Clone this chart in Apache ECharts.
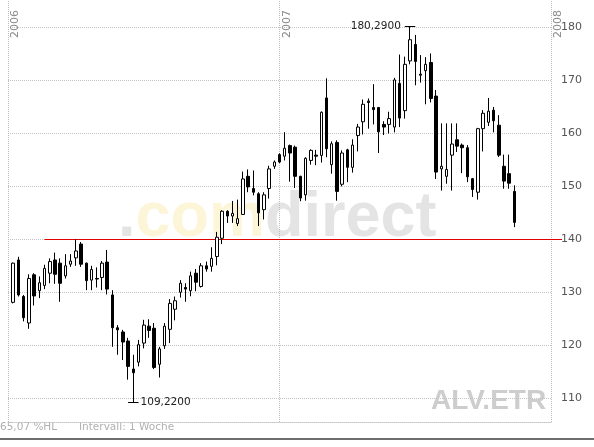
<!DOCTYPE html>
<html><head><meta charset="utf-8">
<script src="https://cdn.jsdelivr.net/npm/echarts@6/dist/echarts.min.js"></script>
<style>html,body{margin:0;padding:0;background:#fff}#c{width:594px;height:447px}</style>
</head><body><div id="c"></div>
<script>
// Weekly candles ALV.ETR, first candle in week index 1 (index 0 = first week of 2006)
const opens  = [128.1,136.1,129.2,124.2,133.3,130.3,131.3,133.6,136.1,135.5,133.1,135.3,136.5,139.1,135.5,132.3,132.6,132.8,135.7,129.5,
                123.3,122.5,120.8,115.5,116.8,120.4,123.6,123.2,116.4,119.9,123.0,126.8,130.0,130.9,130.3,133.6,131.1,135.0,134.9,136.75,
                140.2,145.3,144.4,143.0,144.7,151.9,149.6,148.6,145.6,149.6,153.8,156.0,155.7,157.7,157.4,151.9,148.4,154.9,155.9,155.85,
                166.7,154.1,158.3,150.4,156.9,153.6,159.6,162.2,166.1,164.9,164.9,161.7,161.7,161.2,169.45,164.3,173.7,176.8,171.2,171.85,
                173.4,167.05,153.3,151.9,155.9,158.8,157.8,157.3,151.45,148.9,160.9,162.1,164.4,161.55,153.8,152.4,149.05];
const closes = [135.5,129.5,125.2,132.6,129.3,131.8,134.5,135.8,133.4,131.7,135.0,135.9,137.8,135.3,132.2,134.3,132.5,135.5,130.6,123.3,
                122.9,120.6,116.0,114.8,120.1,123.8,122.8,115.8,119.3,123.6,127.9,128.4,131.7,130.6,133.1,131.9,135.0,134.4,136.4,140.4,
                145.3,144.4,144.9,143.9,151.4,149.9,148.9,145.0,148.4,153.3,154.6,154.6,157.2,156.3,151.9,147.8,155.3,156.8,155.7,164.0,
                157.1,158.05,149.05,156.3,153.6,157.8,161.2,165.5,165.85,164.5,160.3,161.2,162.8,170.1,162.9,173.05,177.7,173.6,171.0,173.05,
                166.6,152.7,153.8,153.2,158.0,157.6,157.3,151.8,149.4,160.9,163.8,164.2,162.4,155.9,151.0,150.6,143.2];
const lows   = [127.9,129.2,124.5,123.1,127.5,128.9,130.6,131.7,131.6,128.2,132.6,134.8,135.0,134.8,130.4,130.4,130.9,130.4,129.6,119.7,
                118.2,117.2,113.5,109.22,116.0,119.4,121.4,115.5,113.9,119.3,120.4,124.7,129.0,128.2,129.25,130.2,130.9,133.9,133.9,135.1,
                139.1,143.1,143.1,142.5,144.6,148.9,148.3,142.5,143.75,147.7,153.3,154.4,154.9,150.9,149.7,147.2,147.3,154.1,154.0,154.5,
                155.5,152.4,147.3,150.0,150.8,152.6,156.6,159.8,160.9,161.7,156.3,159.7,160.0,160.2,161.2,162.8,173.05,169.1,169.6,165.5,
                165.85,151.4,149.2,150.5,149.2,156.5,152.5,150.8,148.0,147.5,156.6,161.4,160.2,155.55,149.55,149.55,142.3];
const highs  = [135.6,136.7,129.5,133.4,133.6,133.0,135.2,136.4,137.5,136.4,137.2,137.2,140.0,139.5,135.6,135.0,134.7,135.9,138.0,130.4,
                123.8,122.9,121.4,118.2,121.0,124.8,124.9,124.2,119.7,124.2,128.7,129.2,132.3,131.7,133.9,134.4,135.5,135.8,138.5,141.4,
                145.5,145.5,147.25,147.5,152.8,153.2,153.0,148.9,148.9,153.9,154.9,156.25,160.25,157.9,157.7,152.0,155.5,157.0,156.9,164.15,
                170.4,158.5,158.7,156.8,157.1,158.9,161.8,166.4,166.6,169.3,165.0,162.3,164.1,170.5,174.9,174.5,180.29,178.6,174.8,174.4,
                175.1,168.2,161.9,161.9,161.9,161.9,158.1,157.8,151.6,161.05,164.4,166.7,165.0,163.45,156.0,156.0,150.2];
const firstCandleWeek = 1;
const yearLabels = ['2006','2007','2008'];
const yearWeeks  = [0, 52, 104];
const levelValue = 140;
const levelStartWeek = 7;
const maxLabel = '180,2900';
const minLabel = '109,2200';
const footerLeft = '65,07 %HL';
const footerMid = 'Intervall: 1 Woche';
const symbolText = 'ALV.ETR';

// weekly category labels (calendar weeks 2006-2007)
const weekCount = 105;
const categories = [];
{
  const d0 = Date.UTC(2006,0,2);
  for (let i=0;i<weekCount;i++){
    const d = new Date(d0 + i*7*86400000);
    categories.push(d.toISOString().slice(0,10));
  }
}
const candleData = opens.map((o,i)=>[categories[firstCandleWeek+i], o, closes[i], lows[i], highs[i]]);

let maxI = 0, minI = 0;
highs.forEach((h,i)=>{ if (h>highs[maxI]) maxI=i; });
lows.forEach((l,i)=>{ if (l<lows[minI]) minI=i; });
const maxW = firstCandleWeek+maxI, minW = firstCandleWeek+minI;

const FONT = 'DejaVu Sans';
const chart = echarts.init(document.getElementById('c'), null, {renderer:'canvas'});
chart.setOption({
  animation:false,
  backgroundColor:'#fff',
  grid:{left:8, right:43, top:0, bottom:25},
  xAxis:{
    type:'category', data:categories, boundaryGap:false,
    axisLine:{show:true, lineStyle:{color:'#c4c4c4', type:'dotted', width:1}},
    axisTick:{show:false}, axisLabel:{show:false}, splitLine:{show:false}
  },
  yAxis:{
    type:'value', position:'right', min:105.5, max:185.2, splitNumber:8, scale:true,
    axisLine:{show:false}, axisTick:{show:false},
    axisLabel:{color:'#555', fontFamily:FONT, fontSize:11, margin:10, showMinLabel:false, showMaxLabel:false},
    splitLine:{show:true, showMinLine:false, showMaxLine:false, lineStyle:{color:'#c4c4c4', type:'dotted', width:1}}
  },
  graphic:[
    {type:'text', left:118, top:187, z:0, silent:true, style:{
      text:'{g|.}{y|com}{g|direct}',
      rich:{
        g:{fill:'#e4e4e4', font:'bold 63px "Liberation Sans", Arial'},
        y:{fill:'#fdf5d8', font:'bold 63px "Liberation Sans", Arial'}
      }}},
    {type:'text', left:431, top:387, z:0, silent:true, style:{
      text:symbolText, fill:'#cdcdcd', font:'bold 28px "Liberation Sans", Arial'}},
    {type:'text', left:0, top:422, style:{text:footerLeft, fill:'#b0b0b0', font:'10.5px "DejaVu Sans"'}},
    {type:'text', left:79, top:422, style:{text:footerMid, fill:'#b0b0b0', font:'10.5px "DejaVu Sans"'}},
    {type:'rect', left:0, top:438, shape:{width:594, height:2}, style:{fill:'#6e6e6e'}}
  ],
  series:[{
    type:'candlestick', data:candleData, encode:{x:0, y:[1,2,3,4]},
    barWidth:3,
    itemStyle:{color:'#fff', color0:'#000', borderColor:'#000', borderColor0:'#000', borderWidth:1},
    z:5,
    markLine:{
      silent:true, symbol:['none','none'], animation:false,
      data:[
        ...yearWeeks.map((w,i)=>({xAxis:categories[w], lineStyle:{color:'#b9b9c9', type:'dotted', width:1},
          label:{show:true, formatter:yearLabels[i], position:'insideEndBottom', color:'#8a8a8a', fontFamily:FONT, fontSize:11, distance:[10,2]}})),
        [{coord:[categories[levelStartWeek], levelValue], lineStyle:{color:'#e00000', type:'solid', width:1}, label:{show:false}},
         {coord:[categories[weekCount-1], levelValue]}],
        [{coord:[categories[maxW-1], highs[maxI]], lineStyle:{color:'#000', type:'solid', width:1},
          label:{show:true, position:'start', formatter:maxLabel, color:'#222', fontFamily:FONT, fontSize:10.5, distance:4}},
         {coord:[categories[maxW+1], highs[maxI]]}],
        [{coord:[categories[minW-1], lows[minI]], lineStyle:{color:'#000', type:'solid', width:1},
          label:{show:true, position:'end', formatter:minLabel, color:'#222', fontFamily:FONT, fontSize:10.5, distance:2}},
         {coord:[categories[minW+1], lows[minI]]}]
      ]
    }
  }]
});
// extend the 140 level line a little past the plot edge, toward its axis label
const pEnd = chart.convertToPixel({gridIndex:0}, [categories[weekCount-1], levelValue]);
chart.getZr().add(new echarts.graphic.Line({
  shape:{x1:pEnd[0], y1:Math.round(pEnd[1])+0.5, x2:pEnd[0]+11, y2:Math.round(pEnd[1])+0.5},
  style:{stroke:'#e00000', lineWidth:1}, z:10
}));
</script></body></html>
